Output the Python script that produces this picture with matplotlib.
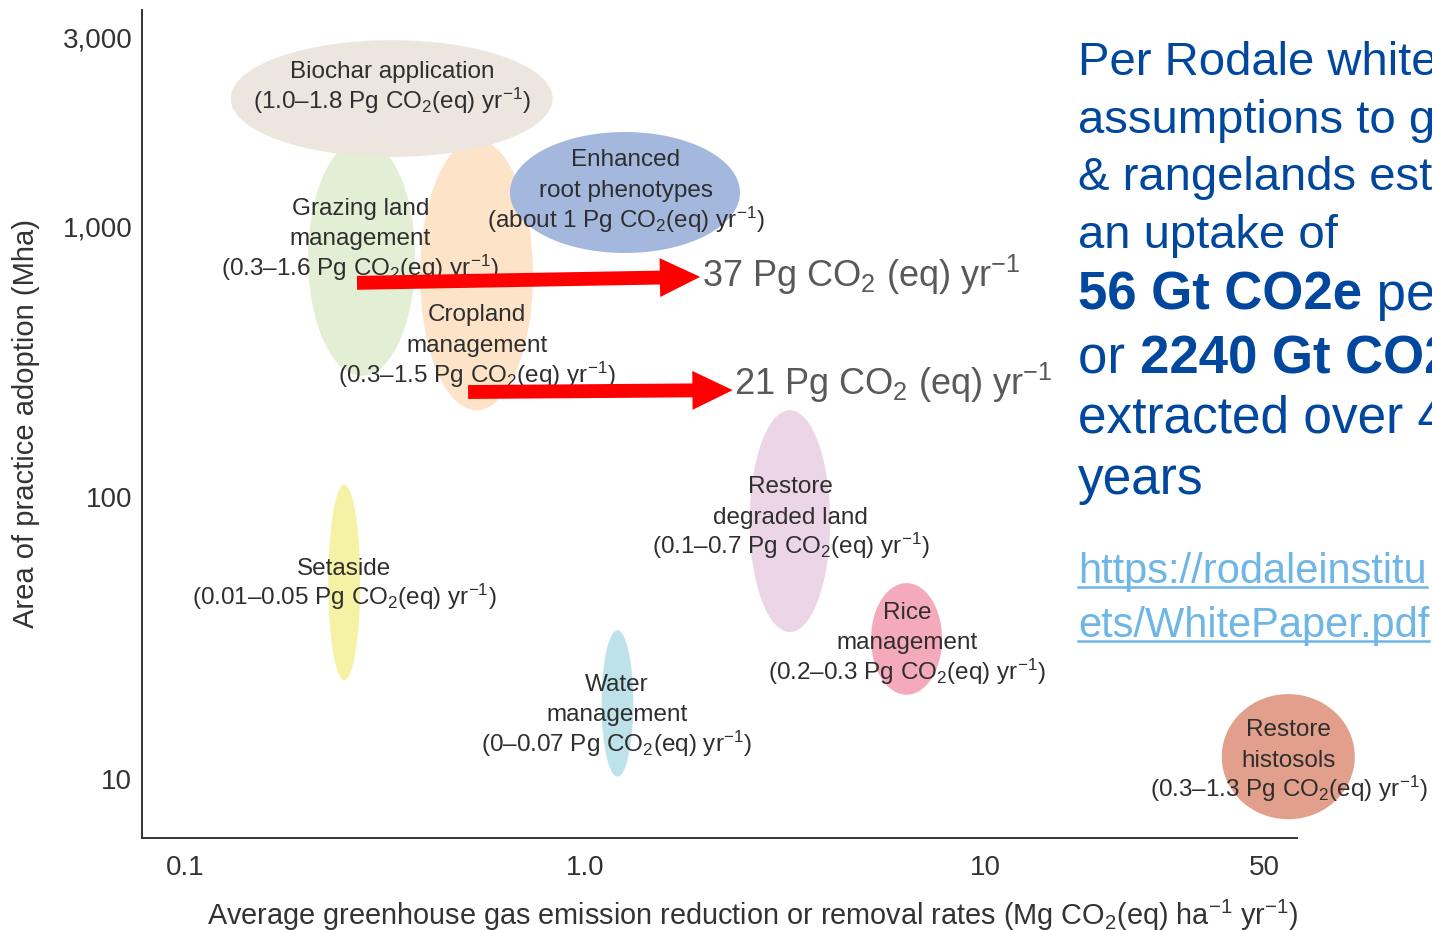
import numpy as np
import matplotlib
matplotlib.use("Agg")
import matplotlib.pyplot as plt
from matplotlib.lines import Line2D

plt.rcParams['font.family'] = ['Liberation Sans', 'DejaVu Sans']
plt.rcParams['mathtext.fontset'] = 'custom'
plt.rcParams['mathtext.rm'] = 'Liberation Sans'
plt.rcParams['mathtext.it'] = 'Liberation Sans'
plt.rcParams['mathtext.bf'] = 'Liberation Sans:bold'

# practices: rate range (Mg CO2 ha-1 yr-1), area range (Mha), colour
practices = ["Biochar", "Grazing", "Cropland", "Enhanced", "Setaside",
             "Water", "Restore", "Rice", "Histosols"]
rate_lo = [0.13, 0.203, 0.387, 0.649, 0.228, 1.10, 2.58, 5.19, 39.1]
rate_hi = [0.83, 0.376, 0.741, 2.44, 0.274, 1.32, 4.10, 7.81, 84.1]
area_lo = [1494, 280, 209, 795, 22.4, 10.2, 33.2, 19.9, 7.2]
area_hi = [2945, 1650, 1650, 1727, 111, 33.7, 209, 49.5, 20.0]
colors = ["#ede6df", "#e3efd5", "#fde3c8", "#a4b8de", "#f5f2a6",
          "#bde2ea", "#ebd5e7", "#f5aabb", "#e19f8c"]
zorders = [3, 1, 1, 2, 1, 1, 1, 1, 1]

labels = [
    "Biochar application\n(1.0–1.8 Pg CO$_2$(eq) yr$^{-1}$)",
    "Grazing land\nmanagement\n(0.3–1.6 Pg CO$_2$(eq) yr$^{-1}$)",
    "Cropland\nmanagement\n(0.3–1.5 Pg CO$_2$(eq) yr$^{-1}$)",
    "Enhanced\nroot phenotypes\n(about 1 Pg CO$_2$(eq) yr$^{-1}$)",
    "Setaside\n(0.01–0.05 Pg CO$_2$(eq) yr$^{-1}$)",
    "Water\nmanagement\n(0–0.07 Pg CO$_2$(eq) yr$^{-1}$)",
    "Restore\ndegraded land\n(0.1–0.7 Pg CO$_2$(eq) yr$^{-1}$)",
    "Rice\nmanagement\n(0.2–0.3 Pg CO$_2$(eq) yr$^{-1}$)",
    "Restore\nhistosols\n(0.3–1.3 Pg CO$_2$(eq) yr$^{-1}$)",
]
label_x = [0.329, 0.274, 0.537, 1.266, 0.25, 1.20, 3.27, 6.38, 57.5]
label_y = [2265, 910, 367, 1240, 50, 17.1, 85.7, 30.8, 11.8]

# arrows: start / tip (rate, area) and their labels
arrow_x0 = [0.269, 0.51]
arrow_y0 = [617, 244]
arrow_x1 = [1.94, 2.34]
arrow_y1 = [649, 248]
arrow_lab_x = [1.96, 2.357]
arrow_lab_y = [596, 238]
arrow_text = ["37 Pg CO$_2$ (eq) yr$^{\\mathregular{-1}}$", "21 Pg CO$_2$ (eq) yr$^{\\mathregular{-1}}$"]

xticks = [0.1, 1.0, 10, 50]
xticklabels = ["0.1", "1.0", "10", "50"]
yticks = [10, 100, 1000, 3000]
yticklabels = ["10", "100", "1,000", "3,000"]

# the printed y axis is not evenly logarithmic: spacing between the ticks
knot_log = [0, 1, 2, 3, np.log10(3000), 4]
knot_pos = [-282, 0, 282, 553, 742, 949]

def fwd(y):
    y = np.maximum(np.asarray(y, dtype=float), 1e-9)
    return np.interp(np.log10(y), knot_log, knot_pos)

def inv(p):
    return 10 ** np.interp(np.asarray(p, dtype=float), knot_pos, knot_log)

fig = plt.figure(figsize=(14.32, 9.30), dpi=100)
ax = fig.add_axes([142/1432, 92/930, 1155/1432, 828/930])
ax.set_xscale('log')
ax.set_yscale('function', functions=(fwd, inv))
ax.set_xlim(0.078, 60.3)
ax.set_ylim(inv(-59), inv(769))

t = np.linspace(0, 2*np.pi, 200)
for i in range(len(practices)):
    cx = (np.log10(rate_lo[i]) + np.log10(rate_hi[i])) / 2
    rx = (np.log10(rate_hi[i]) - np.log10(rate_lo[i])) / 2
    cy = (fwd(area_lo[i]) + fwd(area_hi[i])) / 2
    ry = (fwd(area_hi[i]) - fwd(area_lo[i])) / 2
    ex = 10 ** (cx + rx*np.cos(t))
    ey = inv(cy + ry*np.sin(t))
    ax.fill(ex, ey, color=colors[i], lw=0, zorder=zorders[i], clip_on=False)
    # one text per line so the spacing stays even with the sub/superscripts
    lines = labels[i].split("\n")
    n = len(lines)
    for k, line in enumerate(lines):
        dy = (k - (n - 1) / 2) * 30.5 + 8
        ax.annotate(line, xy=(label_x[i], label_y[i]), xytext=(0, -dy*0.72),
                    textcoords='offset points', ha='center', va='baseline',
                    fontsize=17.5, color='#2e2e2e', zorder=5)

for i in range(2):
    ax.annotate("", xy=(arrow_x1[i], arrow_y1[i]), xytext=(arrow_x0[i], arrow_y0[i]),
                arrowprops=dict(arrowstyle="simple,head_length=29,head_width=28,tail_width=10",
                                mutation_scale=1, color='#ff0000', lw=0,
                                shrinkA=0, shrinkB=0), zorder=6)
    ax.text(arrow_lab_x[i], arrow_lab_y[i], arrow_text[i], ha='left', va='baseline',
            fontsize=26, color='#595959', zorder=6)

ax.set_xticks(xticks)
ax.set_xticklabels(xticklabels)
ax.set_yticks(yticks)
ax.set_yticklabels(yticklabels)
ax.minorticks_off()
ax.tick_params(length=0, labelsize=20, colors='#333333')
ax.tick_params(axis='x', pad=12)
ax.tick_params(axis='y', pad=7)
for s in ['top', 'right']:
    ax.spines[s].set_visible(False)
for s in ['left', 'bottom']:
    ax.spines[s].set_color('#333333')
    ax.spines[s].set_linewidth(1.4)
ax.set_xlabel("Average greenhouse gas emission reduction or removal rates (Mg CO$_2$(eq) ha$^{-1}$ yr$^{-1}$)",
              fontsize=20.8, color='#333333', labelpad=12)
ax.xaxis.set_label_coords(0.529, -0.072)
ax.set_ylabel("Area of practice adoption (Mha)", fontsize=21, color='#333333', labelpad=16)

# note on the right (cut by the right edge, as in the slide)
blue = '#00479d'
renderer = fig.canvas.get_renderer()
note = [[("Per Rodale white", 'normal')],
        [("assumptions to g", 'normal')],
        [("& rangelands est", 'normal')],
        [("an uptake of", 'normal')],
        [("56 Gt CO2e", 'bold'), (" pe", 'normal')],
        [("or ", 'normal'), ("2240 Gt CO2", 'bold')],
        [("extracted over 4", 'normal')],
        [("years", 'normal')]]
note_base = [75, 133, 190, 248, 310, 373, 432, 494]
note_size = [34, 34, 34, 34, 38, 38, 37, 37]
for parts, b, fs in zip(note, note_base, note_size):
    x = 1078
    for part, w in parts:
        tt = fig.text(x/1432, 1 - b/930, part, fontsize=fs, color=blue,
                      weight=w, va='baseline')
        x = tt.get_window_extent(renderer).x1

link = '#6db6e6'
for s, b in [("https://rodaleinstitu", 583), ("ets/WhitePaper.pdf", 637)]:
    tt = fig.text(1078/1432, 1 - b/930, s, fontsize=30, color=link, va='baseline')
    bb = tt.get_window_extent(renderer)
    fig.add_artist(Line2D([1078/1432, min(bb.x1, 1432)/1432], [1 - (b + 4)/930]*2,
                          color=link, lw=1.8))

fig.savefig("out.png", dpi=100)
